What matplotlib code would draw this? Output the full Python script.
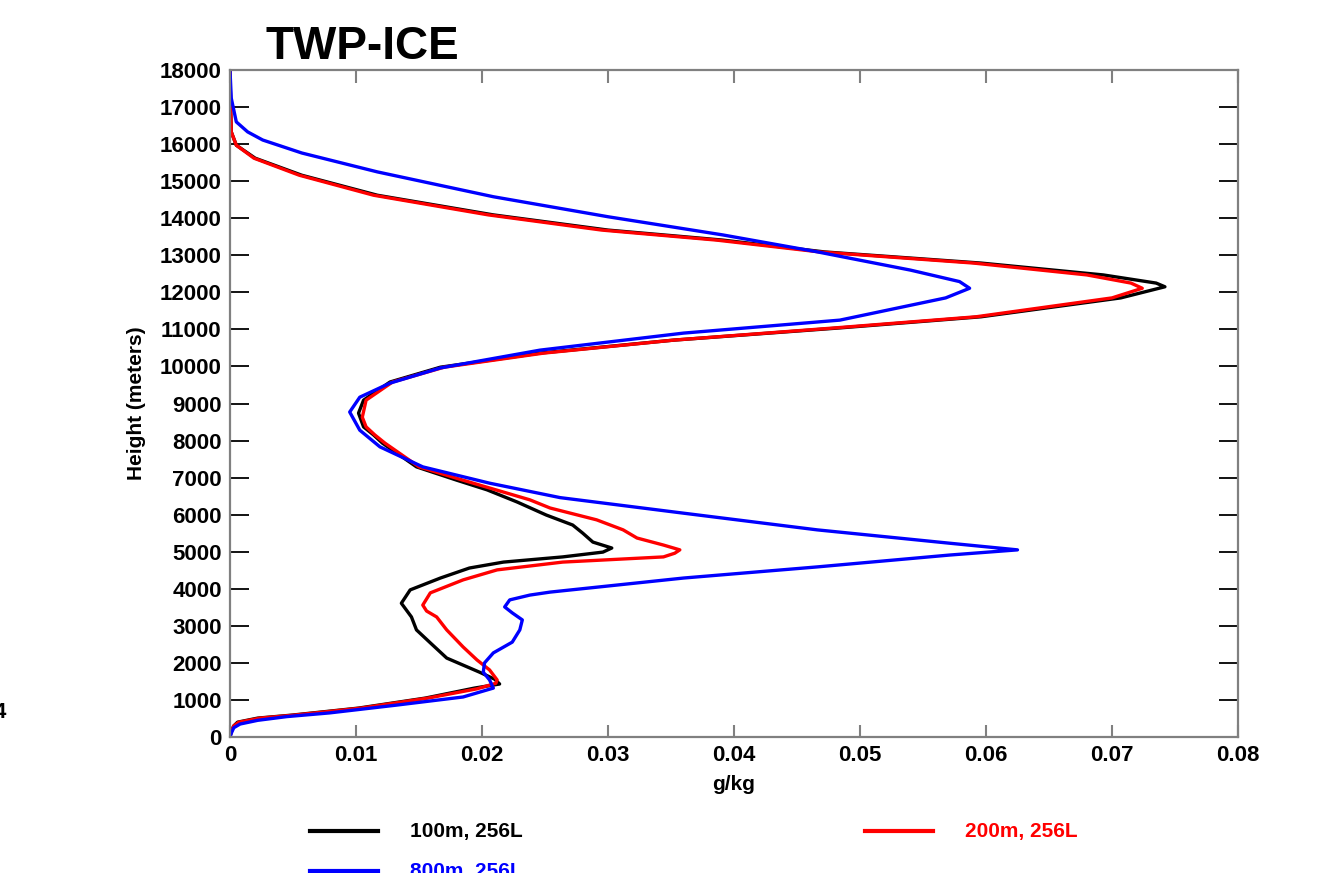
import matplotlib.pyplot as plt

plt.rcParams['font.family'] = ['Liberation Sans', 'DejaVu Sans']
plt.rcParams['font.weight'] = 'bold'

# heights (m) and mixing ratio (g/kg)
h_100 = [0, 150, 300, 400, 510, 590, 780, 1050, 1320, 1430, 1560, 1750, 2130, 2540,
         2890, 3240, 3610, 3970, 4290, 4560, 4720, 4860, 4990, 5100, 5260, 5500, 5720,
         5990, 6340, 6670, 6930, 7290, 7480, 7930, 8150, 8370, 8740, 9090, 9580, 9980,
         10360, 10710, 11040, 11340, 11850, 12150, 12250, 12470, 12790, 13090, 13410,
         13680, 14090, 14620, 15160, 15620, 15970, 16330, 17000, 18000]
q_100 = [0, 0.0001, 0.0003, 0.0006, 0.0022, 0.0049, 0.0102, 0.0155, 0.0194, 0.0214,
         0.0210, 0.0198, 0.0172, 0.0159, 0.0148, 0.0144, 0.0136, 0.0143, 0.0167, 0.0190,
         0.0217, 0.0264, 0.0296, 0.0303, 0.0288, 0.0280, 0.0272, 0.0251, 0.0228, 0.0204,
         0.0180, 0.0148, 0.0140, 0.0121, 0.0114, 0.0106, 0.0102, 0.0106, 0.0127, 0.0167,
         0.0246, 0.0352, 0.0484, 0.0596, 0.0707, 0.0742, 0.0735, 0.0693, 0.0596, 0.0472,
         0.0391, 0.0300, 0.0209, 0.0117, 0.0057, 0.0020, 0.0005, 0.0001, 0.00005, 0]

h_200 = [0, 150, 300, 400, 510, 590, 780, 1050, 1300, 1450, 1540, 1810, 2080, 2430,
         2890, 3240, 3400, 3560, 3890, 4240, 4510, 4720, 4860, 4960, 5050, 5180, 5370,
         5590, 5860, 6180, 6400, 6930, 7290, 7480, 7930, 8150, 8370, 8630, 9090, 9580,
         9980, 10360, 10710, 11040, 11340, 11850, 12110, 12250, 12470, 12790, 13090,
         13410, 13680, 14090, 14620, 15160, 15620, 15970, 16330, 17000, 18000]
q_200 = [0, 0.0001, 0.0003, 0.0007, 0.0024, 0.0051, 0.0104, 0.0157, 0.0196, 0.0211,
         0.0212, 0.0206, 0.0196, 0.0185, 0.0172, 0.0164, 0.0156, 0.0153, 0.0159, 0.0185,
         0.0212, 0.0264, 0.0344, 0.0353, 0.0357, 0.0344, 0.0323, 0.0312, 0.0291, 0.0254,
         0.0238, 0.0185, 0.0150, 0.0142, 0.0123, 0.0115, 0.0108, 0.0105, 0.0108, 0.0129,
         0.0170, 0.0249, 0.0352, 0.0480, 0.0592, 0.0700, 0.0724, 0.0715, 0.0680, 0.0590,
         0.0468, 0.0386, 0.0295, 0.0205, 0.0114, 0.0055, 0.0019, 0.0005, 0.0001, 0.00005, 0]

h_800 = [0, 100, 250, 350, 450, 550, 650, 860, 1080, 1320, 1540, 1750, 2000, 2270,
         2560, 2890, 3160, 3350, 3510, 3700, 3830, 3910, 4290, 4590, 4910, 5050, 5230,
         5590, 6040, 6460, 6850, 7290, 7830, 8280, 8770, 9170, 9550, 9960, 10440, 10900,
         11250, 11850, 12110, 12290, 12600, 13100, 13550, 14040, 14580, 15250, 15760,
         16110, 16330, 16600, 17240, 18000]
q_800 = [0, 0.0001, 0.0003, 0.0008, 0.0022, 0.0045, 0.0079, 0.0132, 0.0185, 0.0209,
         0.0206, 0.0201, 0.0202, 0.0209, 0.0224, 0.0230, 0.0232, 0.0224, 0.0218, 0.0222,
         0.0238, 0.0254, 0.0360, 0.0466, 0.0571, 0.0625, 0.0571, 0.0466, 0.0360, 0.0262,
         0.0206, 0.0153, 0.0119, 0.0103, 0.0095, 0.0103, 0.0127, 0.0167, 0.0246, 0.0360,
         0.0484, 0.0568, 0.0587, 0.0579, 0.0540, 0.0465, 0.0391, 0.0300, 0.0209, 0.0117,
         0.0057, 0.0026, 0.0014, 0.0005, 0.0001, 0]

x_ticks = [0, 0.01, 0.02, 0.03, 0.04, 0.05, 0.06, 0.07, 0.08]
x_labels = ['0', '0.01', '0.02', '0.03', '0.04', '0.05', '0.06', '0.07', '0.08']
y_ticks = list(range(0, 18001, 1000))

fig = plt.figure(figsize=(13.27, 8.73), dpi=100)
ax = fig.add_axes([230 / 1327, 1 - 737 / 873, 1008 / 1327, 667 / 873])

line_kw = dict(lw=2.4, solid_joinstyle='round', solid_capstyle='round')
l1, = ax.plot(q_100, h_100, color='black', label='100m, 256L', **line_kw)
l2, = ax.plot(q_200, h_200, color='red', label='200m, 256L', **line_kw)
l3, = ax.plot(q_800, h_800, color='blue', label='800m, 256L', **line_kw)

ax.set_xlim(0, 0.08)
ax.set_ylim(0, 18000)
ax.set_xticks(x_ticks)
ax.set_xticklabels(x_labels)
ax.set_yticks(y_ticks)

for s in ax.spines.values():
    s.set_color('#808080')
    s.set_linewidth(1.6)

ax.tick_params(axis='x', direction='in', length=9, width=1.5, color='#808080',
               top=True, labelsize=16, pad=6)
ax.tick_params(axis='y', direction='in', length=14, width=1.3, color='black',
               right=True, labelsize=16, pad=6)
for t in ax.yaxis.get_ticklines()[1::2]:
    t.set_color('#404040')

ax.set_xlabel('g/kg', fontsize=15, fontweight='bold', labelpad=6)
ax.set_ylabel('Height (meters)', fontsize=15, fontweight='bold', labelpad=10)

fig.text(265 / 1327, 1 - 59 / 873, 'TWP-ICE', fontsize=33, fontweight='bold',
         ha='left', va='baseline')
fig.text(6 / 1327, 1 - 713 / 873, '4', fontsize=16, fontweight='bold',
         ha='right', va='center')

# legend drawn below the plot, last row runs off the bottom edge as in the original
legend_items = [(l1, 310, 831), (l2, 865, 831), (l3, 310, 871)]
for line, x0, y0 in legend_items:
    yf = 1 - y0 / 873
    fig.add_artist(plt.Line2D([x0 / 1327, (x0 + 68) / 1327], [yf, yf],
                              color=line.get_color(), lw=3, transform=fig.transFigure))
    fig.text((x0 + 100) / 1327, yf, line.get_label(), fontsize=15, fontweight='bold',
             color=line.get_color(), ha='left', va='center')

fig.savefig('out.png', dpi=100)
